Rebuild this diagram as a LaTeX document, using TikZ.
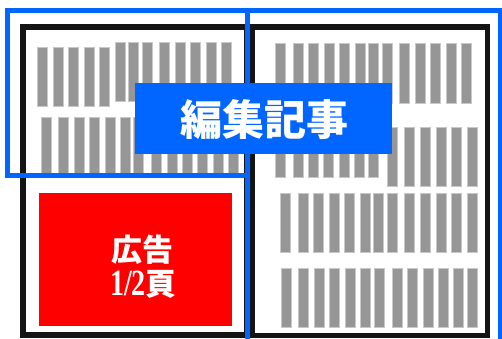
\documentclass[tikz,border=0pt]{standalone}
\usepackage{fontspec}
\setmainfont{Liberation Serif}
\newfontfamily\cjk{Noto Sans CJK JP}
\newfontfamily\numf{Liberation Serif}[FakeStretch=0.76]
\definecolor{pblue}{RGB}{0,102,255}
\definecolor{pred}{RGB}{255,0,0}
\definecolor{bargray}{RGB}{150,150,150}
\definecolor{baredge}{RGB}{200,200,200}
\definecolor{pblack}{RGB}{20,20,20}
\begin{document}
\begin{tikzpicture}[x=1pt,y=-1pt,
  pageframe/.style={draw=pblack,line width=5.5pt},
  bluebox/.style={draw=pblue,line width=5pt},
  barbox/.style={fill=bargray,draw=baredge,line width=0.7pt},
  adbox/.style={fill=pred,draw=none},
  labelbox/.style={fill=pblue,draw=none},
  adtext/.style={text=white,font=\bfseries\fontsize{31}{31}\selectfont,inner sep=0pt}]
\useasboundingbox (0,0) rectangle (502,339);
\clip (0,0) rectangle (502,339);
% page frames
\draw[pageframe] (23,27) rectangle (247,335);
\draw[pageframe] (252.5,27) rectangle (487.5,335.5);
% bars, left page
\foreach \x in {37,53,68,84,99} \draw[barbox] (\x,47) rectangle ++(10,59);
\foreach \x in {115,128,142,159,175,190,206,221} \draw[barbox] (\x,42) rectangle ++(10,59);
\foreach \x in {41,58,74,89,105,120,133,151,167,182,197,213,228} \draw[barbox] (\x,117) rectangle ++(10,59);
% bars, right page
\foreach \x in {275,293,308,324,339,355,368,382,399,415,430,446,461} \draw[barbox] (\x,43) rectangle ++(10,60);
\foreach \x in {275,293,308,323,339,354,368} \draw[barbox] (\x,117) rectangle ++(10,60);
\foreach \x in {387,404,420,436,451,467} \draw[barbox] (\x,127) rectangle ++(10,59);
\foreach \x in {280,298,313,329,344,360,373,387,404,420,436,451,467} \draw[barbox] (\x,193) rectangle ++(10,59);
\foreach \x in {281,298,314,329,345,360,374,392,407,423,438,453,467} \draw[barbox] (\x,268) rectangle ++(10,59);
% advertisement
\node[adbox,minimum width=193pt,minimum height=133pt,inner sep=0pt] (ad) at (135.5,259.5) {};
\node[adtext] (adline1) at (142,250) {\cjk 広告};
\node[adtext] (adline2) at (143.5,284) {{\numf\fontsize{37}{37}\selectfont 1/2}{\cjk 頁}};
% blue frames
\draw[bluebox] (7.5,11) rectangle (247.5,175.5);
\draw[bluebox] (247.5,11) rectangle (500,350);
% label
\node[labelbox,minimum width=257pt,minimum height=71pt,inner sep=0pt] (lbl) at (263.5,118.5) {};
\node[text=white,font=\cjk\bfseries\fontsize{42}{42}\selectfont,inner sep=0pt] (lbltext) at (264,120) {編集記事};
\end{tikzpicture}
\end{document}
